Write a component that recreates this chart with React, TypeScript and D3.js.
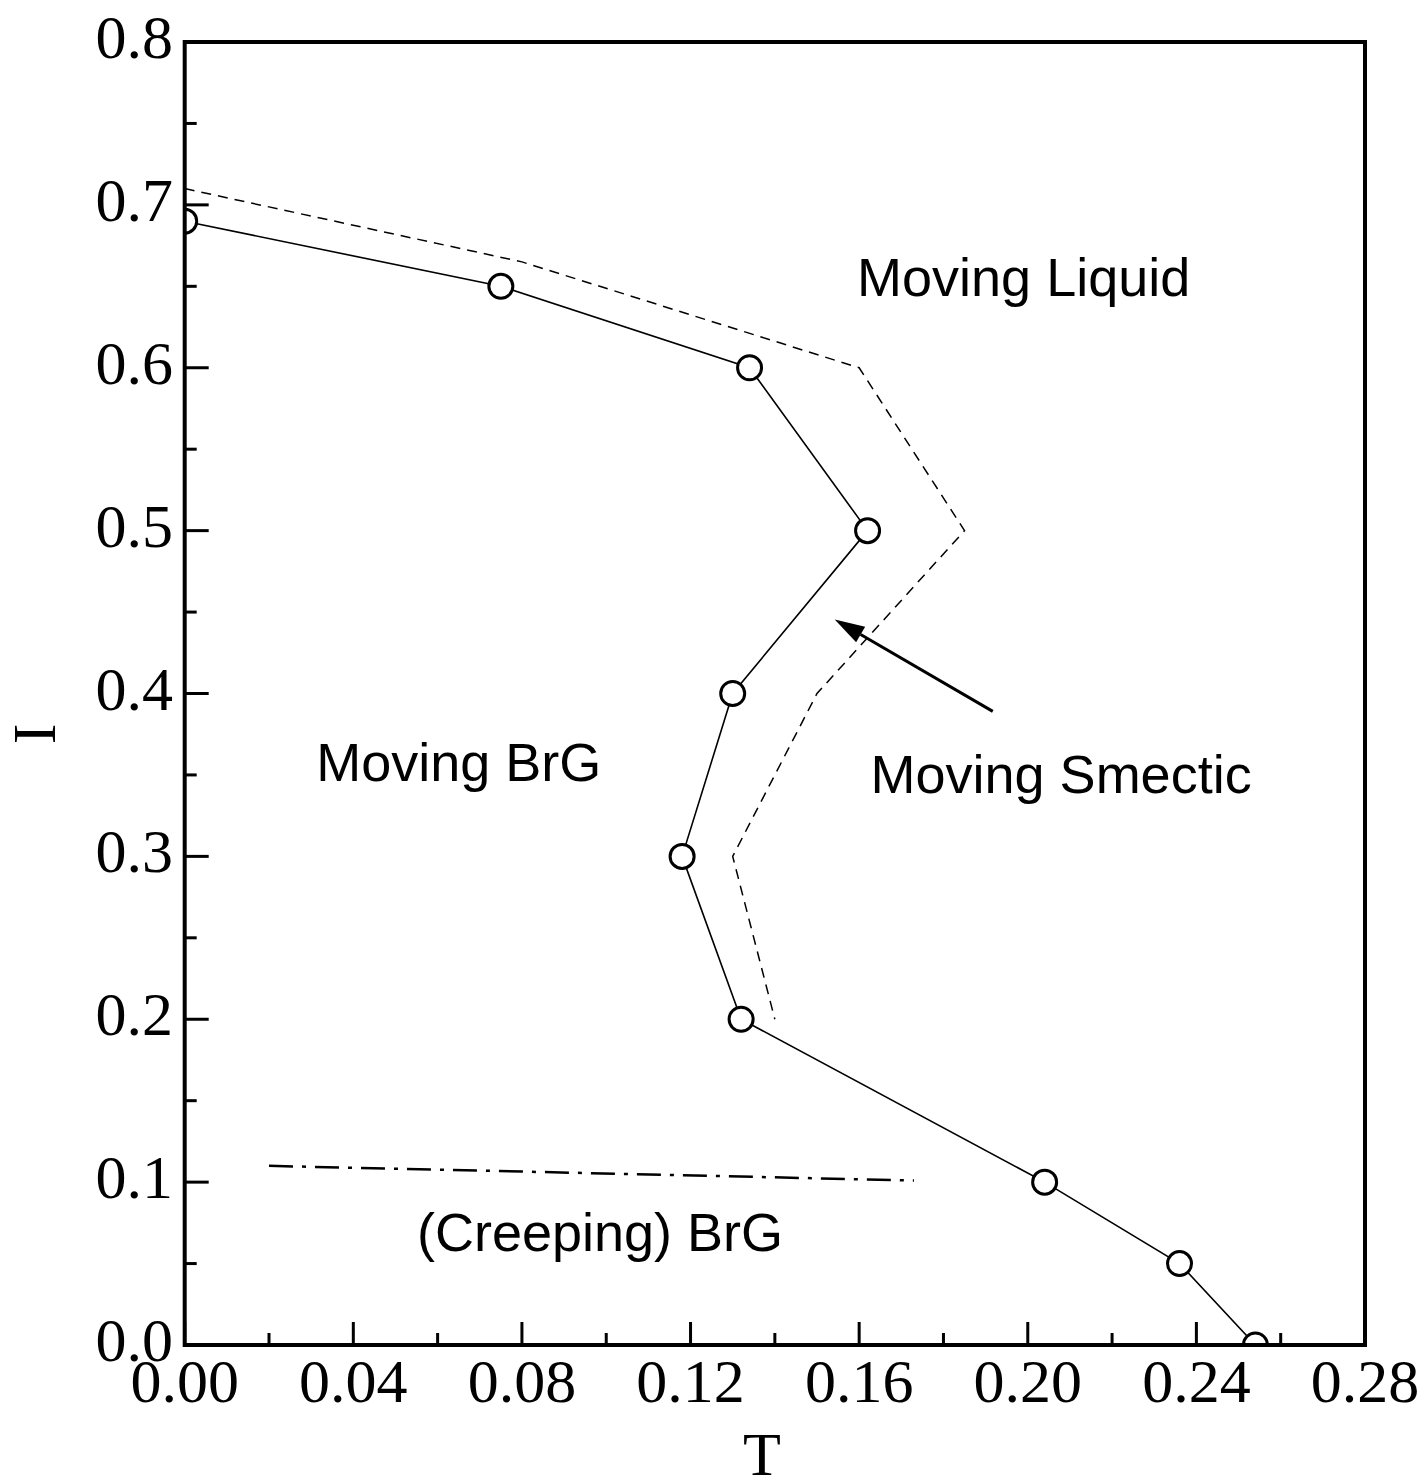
import React from 'react'
import * as d3 from 'd3'

// measured phase boundary (circles)
const simT = [0.0, 0.075, 0.134, 0.162, 0.130, 0.118, 0.132, 0.204, 0.236, 0.254]
const simI = [0.69, 0.65, 0.60, 0.50, 0.40, 0.30, 0.20, 0.10, 0.05, 0.0]

// dashed smectic / liquid boundary
const dashT = [0.0, 0.08, 0.16, 0.185, 0.15, 0.13, 0.14]
const dashI = [0.71, 0.665, 0.60, 0.50, 0.40, 0.30, 0.20]

// dash-dot creep line
const creepT = [0.02, 0.173]
const creepI = [0.11, 0.101]

const xTicks = [0, 0.04, 0.08, 0.12, 0.16, 0.2, 0.24, 0.28]
const xMinor = [0.02, 0.06, 0.1, 0.14, 0.18, 0.22, 0.26]
const yTicks = [0, 0.1, 0.2, 0.3, 0.4, 0.5, 0.6, 0.7, 0.8]
const yMinor = [0.05, 0.15, 0.25, 0.35, 0.45, 0.55, 0.65, 0.75]

const labels = [
  { text: 'Moving Liquid', t: 0.1595, i: 0.644 },
  { text: 'Moving BrG', t: 0.0312, i: 0.346 },
  { text: 'Moving Smectic', t: 0.1627, i: 0.339 },
  { text: '(Creeping) BrG', t: 0.0551, i: 0.058 },
]

const arrowFrom = [0.1917, 0.389]
const arrowTo = [0.1542, 0.4455]

const left = 184.7
const right = 1365
const top = 42
const bottom = 1345

const serif = '"Liberation Serif", "Times New Roman", serif'
const sans = '"Liberation Sans", Arial, sans-serif'

const App: React.FC = () => {
  const x = d3.scaleLinear().domain([0, 0.28]).range([left, right])
  const y = d3.scaleLinear().domain([0, 0.8]).range([bottom, top])

  const line = d3.line<[number, number]>()
    .x(d => x(d[0]))
    .y(d => y(d[1]))

  const simPts = simT.map((t, k) => [t, simI[k]] as [number, number])
  const dashPts = dashT.map((t, k) => [t, dashI[k]] as [number, number])
  const creepPts = creepT.map((t, k) => [t, creepI[k]] as [number, number])

  // arrow head
  const ax0 = x(arrowFrom[0]), ay0 = y(arrowFrom[1])
  const ax1 = x(arrowTo[0]), ay1 = y(arrowTo[1])
  const ang = Math.atan2(ay1 - ay0, ax1 - ax0)
  const hl = 30, hw = 9
  const bx = ax1 - hl * Math.cos(ang), by = ay1 - hl * Math.sin(ang)
  const head = [
    [ax1, ay1],
    [bx + hw * Math.sin(ang), by - hw * Math.cos(ang)],
    [bx - hw * Math.sin(ang), by + hw * Math.cos(ang)],
  ].map(p => p.join(',')).join(' ')

  return (
    <svg width={1428} height={1481} style={{ position: 'absolute', left: 0, top: 0, background: '#fff' }}>
      <defs>
        <clipPath id="plot">
          <rect x={left} y={top} width={right - left} height={bottom - top} />
        </clipPath>
      </defs>
      <rect x={0} y={0} width={1428} height={1481} fill="#fff" />

      <g clipPath="url(#plot)">
        <path d={line(dashPts) || ''} fill="none" stroke="#000" strokeWidth={1.5} strokeDasharray="10,7" />
        <path d={line(creepPts) || ''} fill="none" stroke="#000" strokeWidth={2.5} strokeDasharray="24,9,4,9" />
        <path d={line(simPts) || ''} fill="none" stroke="#000" strokeWidth={1.6} />
        {simPts.map((d, k) => (
          <circle key={k} cx={x(d[0])} cy={y(d[1])} r={12} fill="#fff" stroke="#000" strokeWidth={3} />
        ))}
      </g>

      {/* arrow */}
      <line x1={ax0} y1={ay0} x2={bx} y2={by} stroke="#000" strokeWidth={3} />
      <polygon points={head} fill="#000" />

      {/* region labels */}
      {labels.map(l => (
        <text key={l.text} x={x(l.t)} y={y(l.i)} fontFamily={sans} fontSize={54} fill="#000">{l.text}</text>
      ))}

      {/* ticks */}
      {xTicks.map(t => (
        <line key={'xt' + t} x1={x(t)} x2={x(t)} y1={bottom} y2={bottom - 23} stroke="#000" strokeWidth={3} />
      ))}
      {xMinor.map(t => (
        <line key={'xm' + t} x1={x(t)} x2={x(t)} y1={bottom} y2={bottom - 12} stroke="#000" strokeWidth={3} />
      ))}
      {yTicks.map(t => (
        <line key={'yt' + t} x1={left} x2={left + 24} y1={y(t)} y2={y(t)} stroke="#000" strokeWidth={3} />
      ))}
      {yMinor.map(t => (
        <line key={'ym' + t} x1={left} x2={left + 12} y1={y(t)} y2={y(t)} stroke="#000" strokeWidth={3} />
      ))}

      {/* frame */}
      <rect x={left} y={top} width={right - left} height={bottom - top} fill="none" stroke="#000" strokeWidth={4} />

      {/* tick labels */}
      {xTicks.map(t => (
        <text key={'xl' + t} x={x(t)} y={bottom + 57} textAnchor="middle" fontFamily={serif} fontSize={62} fill="#000">
          {d3.format('.2f')(t)}
        </text>
      ))}
      {yTicks.map(t => (
        <text key={'yl' + t} x={173} y={y(t) + 16} textAnchor="end" fontFamily={serif} fontSize={62} fill="#000">
          {d3.format('.1f')(t)}
        </text>
      ))}

      {/* axis titles */}
      <text x={762} y={1475} textAnchor="middle" fontFamily={serif} fontSize={62} fill="#000">T</text>
      <text transform="translate(55,734) rotate(-90)" textAnchor="middle" fontFamily={serif} fontSize={62} fill="#000">I</text>
    </svg>
  )
}

export default App
